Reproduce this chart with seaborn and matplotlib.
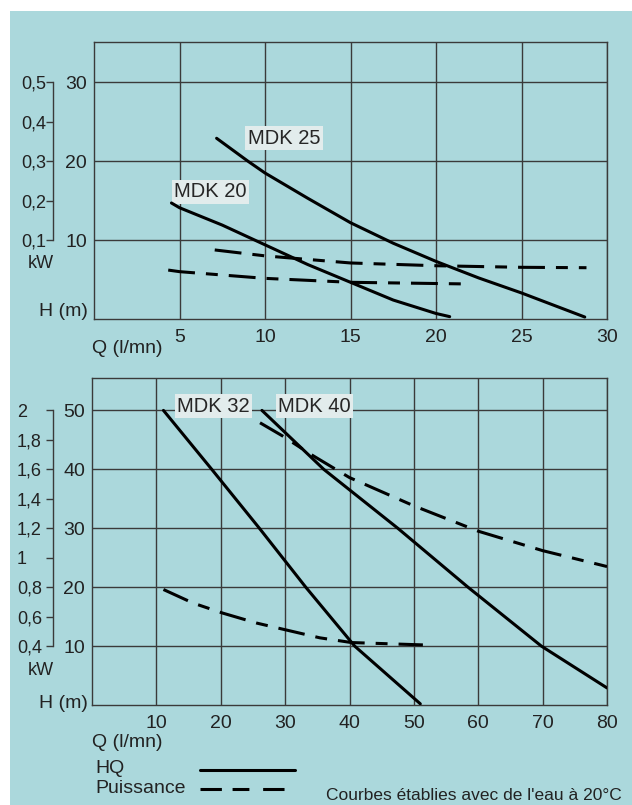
import matplotlib
matplotlib.use('Agg')
import matplotlib.pyplot as plt
from matplotlib.lines import Line2D
from matplotlib.patches import Rectangle
import seaborn as sns

sns.set_style('white')
plt.rcParams['font.family'] = ['Liberation Sans', 'DejaVu Sans']

# --- top chart: MDK 20 / MDK 25 (Q in l/mn, H in m) ---
q20_hq = [4.53, 5, 7.5, 10, 12.5, 15, 17.5, 20, 20.8]
h20_hq = [14.7, 14.1, 11.9, 9.4, 6.9, 4.65, 2.4, 0.7, 0.3]
q25_hq = [7.17, 9.0, 10, 12.5, 15, 17.5, 20, 22.5, 25, 28.7]
h25_hq = [22.9, 20.0, 18.5, 15.3, 12.2, 9.6, 7.3, 5.2, 3.3, 0.25]
# power curves, read as their height on the H grid
q20_p = [4.34, 5, 10, 15, 21.5]
h20_p = [6.2, 6.0, 5.15, 4.65, 4.45]
q25_p = [7.06, 10, 15, 20, 25, 28.8]
h25_p = [8.75, 8.0, 7.1, 6.75, 6.55, 6.5]

# --- bottom chart: MDK 32 / MDK 40 ---
q32_hq = [11.1, 18.6, 26.0, 33.2, 40.8, 51]
h32_hq = [50, 40, 30, 20, 10, 0.2]
q40_hq = [26.4, 36.0, 47.5, 58.4, 69.8, 80]
h40_hq = [50, 40, 30, 20, 10, 2.9]
q32_p = [11.1, 15.7, 20.3, 25.6, 30.3, 35.4, 40.3, 51.4]
h32_p = [19.6, 17.3, 15.6, 13.9, 12.7, 11.4, 10.6, 10.2]
q40_p = [26.1, 29.7, 33.9, 40, 50, 60, 70, 80]
h40_p = [47.9, 45.6, 42.6, 38.6, 33.8, 29.5, 26.2, 23.5]

top_xticks = [5, 10, 15, 20, 25, 30]
top_hticks = [10, 20, 30]
top_kw = [0.1, 0.2, 0.3, 0.4, 0.5]
top_kw_labels = ['0,1', '0,2', '0,3', '0,4', '0,5']
bot_xticks = [10, 20, 30, 40, 50, 60, 70, 80]
bot_hticks = [10, 20, 30, 40, 50]
bot_kw = [0.4, 0.6, 0.8, 1.0, 1.2, 1.4, 1.6, 1.8, 2.0]
bot_kw_labels = ['0,4', '0,6', '0,8', '1', '1,2', '1,4', '1,6', '1,8', '2']

W, H = 632, 805
BG = '#abd8dc'
GRID = '#3a3a3a'
DASH = (0, (8.8, 3.6, 3.9, 3.6))


def fx(x):
    return x / W


def fy(y):
    return 1 - y / H


fig = plt.figure(figsize=(W / 100, H / 100), dpi=100)
fig.patch.set_facecolor('white')
fig.add_artist(Rectangle((fx(10), 0), 1 - fx(10), fy(11), transform=fig.transFigure,
                         facecolor=BG, edgecolor='none', zorder=0))


def panel(box, xlim, ylim, xticks, hticks, kw_ticks, kw_labels, h2kw, kw2h, kw_pad):
    left, top, right, bottom = box
    ax = fig.add_axes([fx(left), fy(bottom), fx(right) - fx(left), fy(top) - fy(bottom)])
    ax.set_facecolor('none')
    ax.set_xlim(*xlim)
    ax.set_ylim(*ylim)
    ax.set_xticks(xticks)
    ax.set_yticks(hticks)
    ax.grid(True, color=GRID, lw=1.0)
    ax.set_axisbelow(True)
    for s in ax.spines.values():
        s.set_color(GRID)
        s.set_linewidth(1.0)
    ax.tick_params(length=0, labelsize=14, colors='#222222')
    ax.tick_params(axis='x', pad=7)
    ax.tick_params(axis='y', pad=5)

    sec = ax.secondary_yaxis(-(left - 53) / (right - left), functions=(h2kw, kw2h))
    sec.set_yticks(kw_ticks)
    sec.set_yticklabels(kw_labels)
    sec.spines['left'].set_bounds(kw_ticks[0], kw_ticks[-1])
    sec.spines['left'].set_color(GRID)
    sec.spines['left'].set_linewidth(1.0)
    sec.tick_params(length=5, width=1.0, color=GRID, labelsize=13, pad=kw_pad, labelcolor='#222222')
    for t in sec.get_yticklabels():
        t.set_ha('left')
    return ax


def curves(ax, hq, pw):
    for q, h in hq:
        sns.lineplot(x=q, y=h, ax=ax, color='black', lw=2.2, sort=False, estimator=None,
                     zorder=4)
    for q, h in pw:
        sns.lineplot(x=q, y=h, ax=ax, color='black', lw=2.2, sort=False, estimator=None,
                     linestyle=DASH, zorder=4)


lab_box = dict(boxstyle='square,pad=0.12', fc='#e2ecec', ec='none')

# top panel
ax1 = panel((94, 42, 607, 319), (0, 30), (0, 35.1), top_xticks, top_hticks, top_kw,
            top_kw_labels, lambda h: 0.02 * h - 0.1, lambda k: (k + 0.1) / 0.02, 18)
curves(ax1, [(q20_hq, h20_hq), (q25_hq, h25_hq)], [(q20_p, h20_p), (q25_p, h25_p)])
ax1.text(9.0, 22.9, 'MDK 25', fontsize=14.5, ha='left', va='center', bbox=lab_box, zorder=3)
ax1.text(4.7, 16.1, 'MDK 20', fontsize=14.5, ha='left', va='center', bbox=lab_box, zorder=3)

# bottom panel
ax2 = panel((92, 378, 607, 705), (0, 80), (0, 55.5), bot_xticks, bot_hticks, bot_kw,
            bot_kw_labels, lambda h: 0.04 * h, lambda k: k / 0.04, 21)
curves(ax2, [(q32_hq, h32_hq), (q40_hq, h40_hq)], [(q32_p, h32_p), (q40_p, h40_p)])
ax2.text(13.2, 50.7, 'MDK 32', fontsize=14.5, ha='left', va='center', bbox=lab_box, zorder=3)
ax2.text(28.9, 50.7, 'MDK 40', fontsize=14.5, ha='left', va='center', bbox=lab_box, zorder=3)

# axis captions
txt = dict(color='#222222')
for yq, yh, ykw in [(348, 311, 263), (742, 703, 670)]:
    fig.text(fx(92), fy(yq), 'Q (l/mn)', fontsize=14, ha='left', va='center', **txt)
    fig.text(fx(88), fy(yh), 'H (m)', fontsize=14, ha='right', va='center', **txt)
    fig.text(fx(54), fy(ykw), 'kW', fontsize=13, ha='right', va='center', **txt)

# legend
fig.text(fx(95), fy(768), 'HQ', fontsize=14, ha='left', va='center', **txt)
fig.text(fx(95), fy(788), 'Puissance', fontsize=14, ha='left', va='center', **txt)
fig.add_artist(Line2D([fx(200), fx(295)], [fy(770), fy(770)], transform=fig.transFigure,
                      color='black', lw=2.2))
fig.add_artist(Line2D([fx(200), fx(292)], [fy(789), fy(789)], transform=fig.transFigure,
                      color='black', lw=2.2, linestyle=(0, (7, 3.5, 5.5, 4.5))))
fig.text(fx(622), fy(795), "Courbes établies avec de l'eau à 20°C", fontsize=12.5,
         ha='right', va='center', **txt)

fig.savefig('out.png', dpi=100)
